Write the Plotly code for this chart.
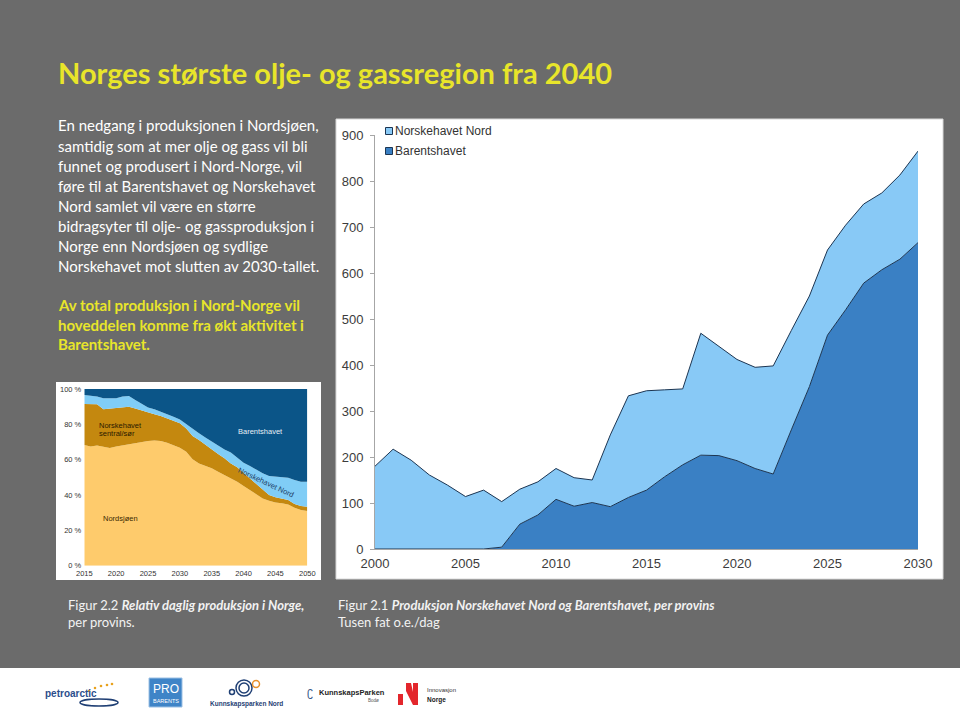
import plotly.graph_objects as go

W, H = 960, 712

# ---------------- data: big chart (thousand boe/day) ----------------
years_big = list(range(2000, 2031))
barentshavet = [0, 0, 0, 0, 0, 0, 0, 4, 54, 74, 108, 93, 101, 92, 112, 128, 157, 183, 204, 203,
                192, 175, 163, 259, 353, 465, 520, 578, 607, 630, 666]
norskehavet_nord = [180, 217, 193, 161, 139, 114, 128, 99, 76, 72, 67, 62, 49, 156, 221, 216,
                    189, 165, 265, 237, 220, 220, 235, 216, 197, 185, 184, 172, 167, 183, 199]
big_xticks = [2000, 2005, 2010, 2015, 2020, 2025, 2030]
big_yticks = [0, 100, 200, 300, 400, 500, 600, 700, 800, 900]

# ---------------- data: small chart (percent share) ----------------
years_small = list(range(2015, 2051))
nordsjoen = [68.3, 67.4, 68.0, 67.4, 66.6, 67.4, 68.1, 68.9, 69.2, 70.2, 70.6, 70.8, 70.6, 69.6,
             68.3, 66.8, 64.5, 60.2, 57.9, 56.6, 55.1, 53.2, 51.3, 49.4, 47.5, 45.1, 42.8, 40.6,
             38.1, 36.8, 35.8, 35.3, 34.7, 32.8, 31.5, 30.9]
sentral_sor = [23.2, 23.9, 23.3, 21.1, 22.3, 22.0, 21.9, 21.1, 19.7, 17.5, 16.2, 14.9, 14.1, 13.8,
               13.6, 13.8, 13.2, 13.2, 13.2, 11.7, 10.7, 10.0, 9.5, 8.5, 8.2, 7.5, 6.6, 5.6,
               4.7, 3.2, 2.9, 2.8, 2.5, 2.1, 2.3, 2.5]
nord_share = [5.1, 4.9, 4.4, 6.2, 5.8, 5.3, 5.7, 6.0, 4.9, 3.8, 2.8, 2.8, 2.5, 2.4, 2.4, 2.2,
              2.5, 3.8, 3.8, 4.3, 4.4, 4.7, 5.0, 6.1, 5.6, 5.7, 7.0, 8.0, 9.5, 10.8, 11.7, 11.9,
              12.6, 13.6, 13.7, 14.1]
barents_share = [3.4, 3.8, 4.3, 5.3, 5.3, 5.3, 4.3, 4.0, 6.2, 8.5, 10.4, 11.5, 12.8, 14.2, 15.7,
                 17.2, 19.8, 22.8, 25.1, 27.4, 29.8, 32.1, 34.2, 36.0, 38.7, 41.7, 43.6, 45.8,
                 47.7, 49.2, 49.6, 50.0, 50.2, 51.5, 52.5, 52.5]
small_xticks = [2015, 2020, 2025, 2030, 2035, 2040, 2045, 2050]
small_yticks = [0, 20, 40, 60, 80, 100]
small_yticktext = ["0 %", "20 %", "40 %", "60 %", "80 %", "100 %"]


def px(x):
    return x / W


def py(y):
    return 1 - y / H


GRAY = "#6B6B6B"
YELLOW = "#E8E52A"
TXT = "Lato"
AX = "Liberation Sans"

fig = go.Figure()

# big chart: stacked areas
fig.add_trace(go.Scatter(x=years_big, y=barentshavet, stackgroup="big", name="Barentshavet",
                         mode="lines", line=dict(color="#1C3552", width=1),
                         fillcolor="#3A80C4", xaxis="x", yaxis="y", showlegend=False))
fig.add_trace(go.Scatter(x=years_big, y=norskehavet_nord, stackgroup="big", name="Norskehavet Nord",
                         mode="lines", line=dict(color="#1C3552", width=1),
                         fillcolor="#88C9F6", xaxis="x", yaxis="y", showlegend=False))

# small chart: stacked percent areas
for name, vals, col in [("Nordsjøen", nordsjoen, "#FECB6C"),
                        ("Norskehavet sentral/sør", sentral_sor, "#C4880F"),
                        ("Norskehavet Nord", nord_share, "#80CDF6"),
                        ("Barentshavet", barents_share, "#0B5588")]:
    fig.add_trace(go.Scatter(x=years_small, y=vals, stackgroup="small", name=name,
                             mode="lines", line=dict(width=0, color=col), fillcolor=col,
                             xaxis="x2", yaxis="y2", showlegend=False))

shapes = [
    # white band at the bottom
    dict(type="rect", xref="paper", yref="paper", x0=0, x1=1, y0=0, y1=py(668),
         fillcolor="white", line=dict(width=0), layer="below"),
    # big chart box
    dict(type="rect", xref="paper", yref="paper", x0=px(336), x1=px(943), y0=py(579), y1=py(119),
         fillcolor="white", line=dict(width=1, color="#D8D8D8"), layer="below"),
    # small chart box
    dict(type="rect", xref="paper", yref="paper", x0=px(56), x1=px(321), y0=py(580), y1=py(382),
         fillcolor="white", line=dict(width=0), layer="below"),
    # legend squares in big chart
    dict(type="rect", xref="paper", yref="paper", x0=px(385.5), x1=px(392.5), y0=py(134.5), y1=py(127.5),
         fillcolor="#88C9F6", line=dict(width=1, color="#1C3552")),
    dict(type="rect", xref="paper", yref="paper", x0=px(385.5), x1=px(392.5), y0=py(154.5), y1=py(147.5),
         fillcolor="#3A80C4", line=dict(width=1, color="#1C3552")),
]

ann = []


def text(x, y, s, size, color, family=TXT, xanchor="left", yanchor="middle", angle=0):
    ann.append(dict(x=px(x), y=py(y), xref="paper", yref="paper", text=s, showarrow=False,
                    xanchor=xanchor, yanchor=yanchor, textangle=angle,
                    font=dict(size=size, color=color, family=family)))


# title
text(56, 73, "<b>Norges største olje- og gassregion fra 2040</b>", 29, YELLOW)

body = ["En nedgang i produksjonen i Nordsjøen,",
        "samtidig som at mer olje og gass vil bli",
        "funnet og produsert i Nord-Norge, vil",
        "føre til at Barentshavet og Norskehavet",
        "Nord samlet vil være en større",
        "bidragsyter til olje- og gassproduksjon i",
        "Norge enn Nordsjøen og sydlige",
        "Norskehavet mot slutten av 2030-tallet."]
body_y = [125, 145.5, 166, 186, 206, 226, 246, 266]
for s, y in zip(body, body_y):
    text(56, y, s, 15, "white")

yel = ["Av total produksjon i Nord-Norge vil",
       "hoveddelen komme fra økt aktivitet i",
       "Barentshavet."]
for s, y in zip(yel, [305, 325, 344]):
    text(56, y, "<b>" + s + "</b>", 15, YELLOW)

# captions
text(66, 605, "Figur 2.2 <b><i>Relativ daglig produksjon i Norge,</i></b>", 13, "#F2F2F2")
text(66, 622, "per provins.", 13, "#F2F2F2")
text(336, 605, "Figur 2.1 <b><i>Produksjon Norskehavet Nord og Barentshavet, per provins</i></b>", 13, "#F2F2F2")
text(336, 622, "Tusen fat o.e./dag", 13, "#F2F2F2")

# big chart legend text
text(393, 131, "Norskehavet Nord", 12, "#333333", family=AX)
text(393, 151, "Barentshavet", 12, "#333333", family=AX)

# small chart inline labels
text(97, 425, "Norskehavet", 7.5, "#2A1A00", family=AX)
text(97, 433.5, "sentral/sør", 7.5, "#2A1A00", family=AX)
text(260, 431, "Barentshavet", 7.5, "#E6EEF5", family=AX, xanchor="center")
text(120, 518.5, "Nordsjøen", 7.5, "#3A2A00", family=AX, xanchor="center")
text(266, 482, "Norskehavet Nord", 7.5, "#1E3F66", family=AX, xanchor="center", angle=25)

# logos (approximations)
text(43, 693, "<b>petroarctic</b>", 10, "#2B4E8C", family=AX)
for i, (dx, dy) in enumerate([(89, 691), (95, 688), (101, 686), (107, 685), (112, 684)]):
    shapes.append(dict(type="circle", xref="paper", yref="paper", x0=px(dx - 1.3), x1=px(dx + 1.3),
                       y0=py(dy + 1.3), y1=py(dy - 1.3), fillcolor="#E8A21E", line=dict(width=0)))
shapes.append(dict(type="circle", xref="paper", yref="paper", x0=px(80), x1=px(118), y0=py(706),
                   y1=py(699), line=dict(width=1.5, color="#1F3F74")))
shapes.append(dict(type="rect", xref="paper", yref="paper", x0=px(149), x1=px(182), y0=py(707),
                   y1=py(678), fillcolor="#3F84C7", line=dict(width=1, color="#9CC0E4")))
text(165.5, 689, "PRO", 12, "white", family=AX, xanchor="center")
text(165.5, 701, "BARENTS", 5.5, "white", family=AX, xanchor="center")
for cx, cy, r, col in [(244, 688, 8, "#1F3F74"), (244, 688, 5, "#1F3F74"), (232, 692, 2.5, "#1F3F74"),
                       (256, 684, 3.5, "#E8902A")]:
    shapes.append(dict(type="circle", xref="paper", yref="paper", x0=px(cx - r), x1=px(cx + r),
                       y0=py(cy + r), y1=py(cy - r), line=dict(width=1.5, color=col)))
text(247, 703.5, "<b>Kunnskapsparken Nord</b>", 6.5, "#1F3F74", family=AX, xanchor="center")
text(310, 692, "ʗ", 12, "#3A5A8A", family=AX, xanchor="center")
text(317, 692, "<b>KunnskapsParken</b>", 7.5, "#222222", family=AX)
text(366, 700, "Bodø", 4.5, "#555555", family=AX)
shapes.append(dict(type="rect", xref="paper", yref="paper", x0=px(398), x1=px(403), y0=py(705),
                   y1=py(694), fillcolor="#E3262C", line=dict(width=0)))
shapes.append(dict(type="path", xref="paper", yref="paper",
                   path=f"M {px(406)},{py(683)} L {px(411)},{py(683)} L {px(413)},{py(692)} L {px(413)},{py(683)} "
                        f"L {px(418)},{py(683)} L {px(418)},{py(705)} L {px(413)},{py(705)} L {px(406)},{py(691)} Z",
                   fillcolor="#E3262C", line=dict(width=0)))
text(425, 690, "Innovasjon", 6, "#333333", family=AX)
text(425, 700, "<b>Norge</b>", 6.5, "#222222", family=AX)

fig.update_layout(
    width=W, height=H, margin=dict(l=0, r=0, t=0, b=0, pad=0, autoexpand=False),
    paper_bgcolor=GRAY, plot_bgcolor="white", showlegend=False,
    shapes=shapes, annotations=ann,
    xaxis=dict(domain=[px(375), px(918)], range=[2000, 2030], tickvals=big_xticks,
               showgrid=False, zeroline=False, showline=True, linecolor="#A6A6A6", linewidth=1,
               ticks="", ticklabelstandoff=2, automargin=False,
               tickfont=dict(family=AX, size=13, color="#3C3C3C"), anchor="y"),
    yaxis=dict(domain=[py(549), py(135)], range=[0, 900], tickvals=big_yticks,
               showgrid=False, zeroline=False, showline=True, linecolor="#A6A6A6", linewidth=1,
               ticks="outside", ticklen=4, tickcolor="#A6A6A6", ticklabelstandoff=4, automargin=False,
               tickfont=dict(family=AX, size=13, color="#3C3C3C"), anchor="x"),
    xaxis2=dict(domain=[px(84.3), px(307.3)], range=[2015, 2050], tickvals=small_xticks,
                showgrid=False, zeroline=False, showline=False, ticks="", automargin=False,
                ticklabelstandoff=2,
                tickfont=dict(family=AX, size=7.5, color="#333333"), anchor="y2"),
    yaxis2=dict(domain=[py(565.7), py(389)], range=[0, 100], tickvals=small_yticks,
                ticktext=small_yticktext, ticklabelstandoff=2,
                showgrid=False, zeroline=False, showline=False, ticks="", automargin=False,
                tickfont=dict(family=AX, size=7.5, color="#333333"), anchor="x2"),
)

fig.write_html("out.html", config={"responsive": False, "displayModeBar": False},
               post_script="document.body.style.margin='0px';document.body.style.overflow='hidden';")
